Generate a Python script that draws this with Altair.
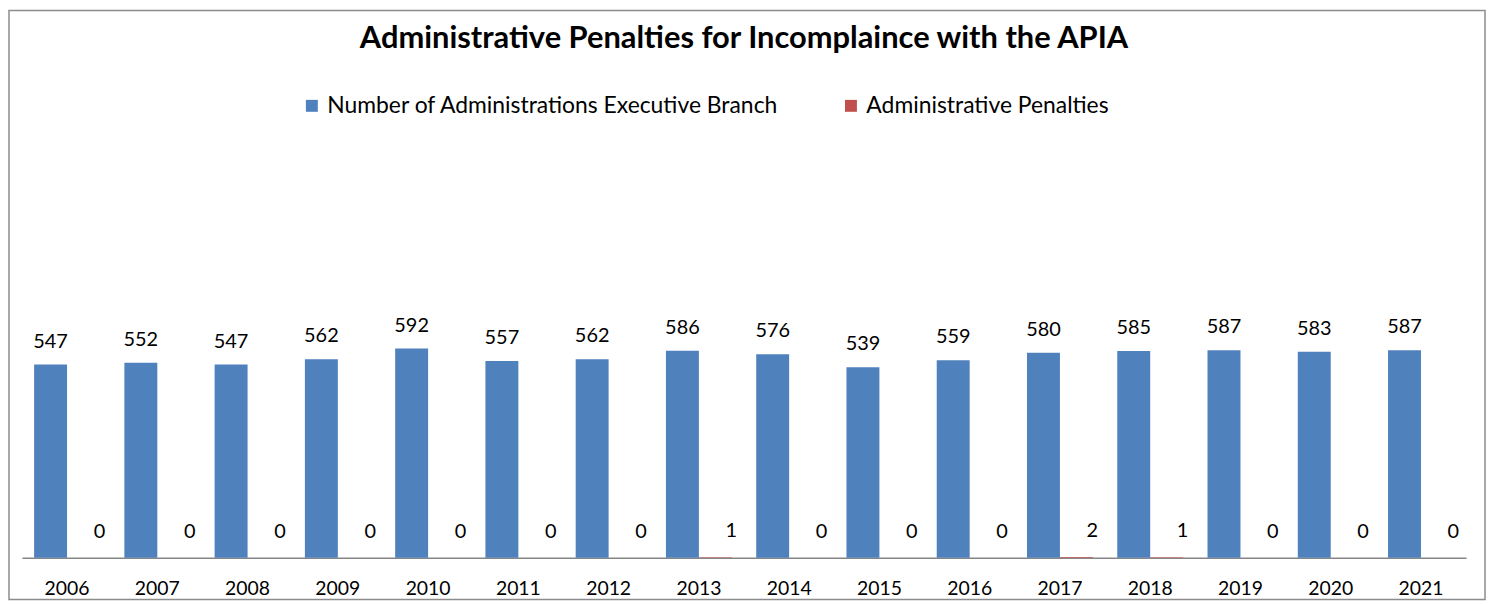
import altair as alt
import pandas as pd

years = [str(y) for y in range(2006, 2022)]
admins = [547, 552, 547, 562, 592, 557, 562, 586, 576, 539, 559, 580, 585, 587, 583, 587]
penalties = [0, 0, 0, 0, 0, 0, 0, 1, 0, 0, 0, 2, 1, 0, 0, 0]
series = ["Number of Administrations Executive Branch", "Administrative Penalties"]
colors = ["#4F81BD", "#C0504D"]
title_text = "Administrative Penalties for Incomplaince with the APIA"

rows = []
for i, yr in enumerate(years):
    rows.append({"year": yr, "series": series[0], "value": admins[i]})
    rows.append({"year": yr, "series": series[1], "value": penalties[i]})
df = pd.DataFrame(rows)

FONT = "Lato"

x = alt.X("year:N", title=None, sort=years,
          scale=alt.Scale(paddingInner=0.27, paddingOuter=0.135),
          axis=alt.Axis(labelAngle=0, ticks=False, labelPadding=22, labelFontSize=19.5,
                        labelColor="black", domainColor="#868686", domainWidth=1.5,
                        labelFont=FONT))
xo = alt.XOffset("series:N", sort=series, scale=alt.Scale(domain=series, paddingInner=0, paddingOuter=0))
y = alt.Y("value:Q", scale=alt.Scale(domain=[0, 1200]), axis=None)

base = alt.Chart(df).encode(x=x, xOffset=xo, y=y)

bars = base.mark_bar().encode(
    color=alt.Color("series:N", sort=series,
                    scale=alt.Scale(domain=series, range=colors),
                    legend=alt.Legend(title=None, orient="none", direction="horizontal",
                                      legendX=280, legendY=-40, symbolType="square",
                                      symbolSize=144, symbolStrokeWidth=0,
                                      labelFontSize=23, labelFont=FONT, labelColor="black",
                                      labelLimit=800, labelOffset=4, columnPadding=60,
                                      padding=0))
)

labels_blue = base.transform_filter(alt.datum.series == series[0]).mark_text(
    baseline="bottom", dy=-13, fontSize=20, font=FONT, color="black"
).encode(text="value:Q")

labels_red = base.transform_filter(alt.datum.series == series[1]).mark_text(
    baseline="bottom", dy=-16, dx=16, fontSize=20, font=FONT, color="black"
).encode(text="value:Q")

frame = alt.Chart(alt.Data(values=[{}])).mark_rect(
    fillOpacity=0, stroke="#8c8c8c", strokeWidth=1.5
).encode(x=alt.value(-13), x2=alt.value(1471), y=alt.value(-124), y2=alt.value(468))

chart = alt.layer(frame, bars, labels_blue, labels_red).properties(
    width=1452, height=426,
    title=alt.TitleParams(title_text, fontSize=31, fontWeight="bold", font=FONT,
                          anchor="middle", frame="group", offset=-45, color="black"),
    autosize=alt.AutoSizeParams(type="none"),
    padding={"left": 14, "top": 125, "right": 22, "bottom": 44},
    background="white",
).configure_view(stroke=None)

chart.save("out.html", embed_options={"renderer": "svg", "actions": False})
